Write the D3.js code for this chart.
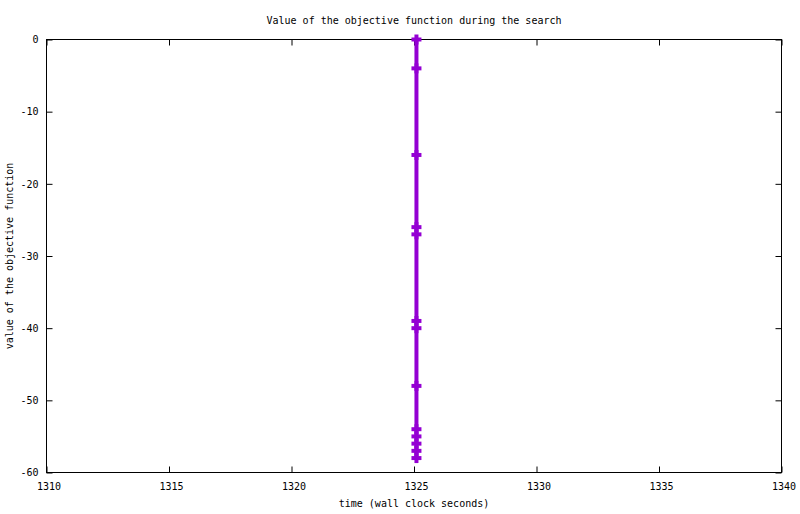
<!DOCTYPE html>
<html>
<head>
<meta charset="utf-8">
<script src="https://cdn.jsdelivr.net/npm/d3@7"></script>
<style>
  body { margin: 0; background: #fff; }
  text { font-family: "DejaVu Sans Mono", monospace; font-size: 10px; fill: #000; }
</style>
</head>
<body>
<div id="chart"></div>
<script>
// values
const times = [1325.1, 1325.1, 1325.1, 1325.1, 1325.1, 1325.1, 1325.1, 1325.1, 1325.1, 1325.1, 1325.1, 1325.1, 1325.1];
const objective = [0, -4, -16, -26, -27, -39, -40, -48, -54, -55, -56, -57, -58];
const xTicks = [1310, 1315, 1320, 1325, 1330, 1335, 1340];
const yTicks = [0, -10, -20, -30, -40, -50, -60];

const points = times.map((t, i) => ({ t: t, v: objective[i] }));

const svg = d3.select("#chart").append("svg").attr("width", 800).attr("height", 514);
const margin = { top: 39.5, right: 18.5, bottom: 41.5, left: 46.5 };
const width = 800 - margin.left - margin.right;
const height = 514 - margin.top - margin.bottom;

const g = svg.append("g")
    .attr("transform", `translate(${margin.left},${margin.top})`);

const x = d3.scaleLinear().domain([1310, 1340]).range([0, width]);
const y = d3.scaleLinear().domain([-60, 0]).range([height, 0]);

// gnuplot style ticks: inward, mirrored on top and right
const tickLen = 6;
g.append("g")
    .attr("transform", `translate(0,${height})`)
    .call(d3.axisBottom(x).tickValues(xTicks).tickSize(-tickLen).tickPadding(10).tickFormat(d3.format("d")))
    .call(a => a.select(".domain").remove())
    .call(a => a.selectAll("text").attr("dx", 2).attr("fill", "#000"));
g.append("g")
    .call(d3.axisTop(x).tickValues(xTicks).tickSize(-tickLen).tickFormat(""))
    .call(a => a.select(".domain").remove());
g.append("g")
    .call(d3.axisLeft(y).tickValues(yTicks).tickSize(-tickLen).tickPadding(8).tickFormat(d => d === 0 ? "0" : "-" + Math.abs(d)))
    .call(a => a.select(".domain").remove())
    .call(a => a.selectAll("text").attr("fill", "#000"));
g.append("g")
    .attr("transform", `translate(${width},0)`)
    .call(d3.axisRight(y).tickValues(yTicks).tickSize(-tickLen).tickFormat(""))
    .call(a => a.select(".domain").remove());

g.selectAll(".tick line").attr("stroke", "#000");
g.selectAll(".tick text").style("font-family", "DejaVu Sans Mono, monospace").style("font-size", "10px");

// frame
g.append("rect")
    .attr("width", width)
    .attr("height", height)
    .attr("fill", "none")
    .attr("stroke", "#000")
    .attr("stroke-width", 1);

// series
const line = d3.line()
    .x(d => x(d.t))
    .y(d => y(d.v));

g.append("path")
    .datum(points)
    .attr("fill", "none")
    .attr("stroke", "#9400d3")
    .attr("stroke-width", 4)
    .attr("d", line);

const arm = 5;
const marks = g.selectAll(".mark").data(points).enter().append("g")
    .attr("class", "mark")
    .attr("transform", d => `translate(${x(d.t)},${y(d.v)})`);
marks.append("line").attr("x1", -arm).attr("x2", arm)
    .attr("stroke", "#9400d3").attr("stroke-width", 4);
marks.append("line").attr("y1", -arm).attr("y2", arm)
    .attr("stroke", "#9400d3").attr("stroke-width", 4);

// titles
svg.append("text")
    .attr("x", margin.left + width / 2)
    .attr("y", 24)
    .attr("text-anchor", "middle")
    .text("Value of the objective function during the search");

svg.append("text")
    .attr("x", margin.left + width / 2)
    .attr("y", 507)
    .attr("text-anchor", "middle")
    .text("time (wall clock seconds)");

svg.append("text")
    .attr("transform", `translate(13,${margin.top + height / 2}) rotate(-90)`)
    .attr("text-anchor", "middle")
    .text("value of the objective function");
</script>
</body>
</html>
